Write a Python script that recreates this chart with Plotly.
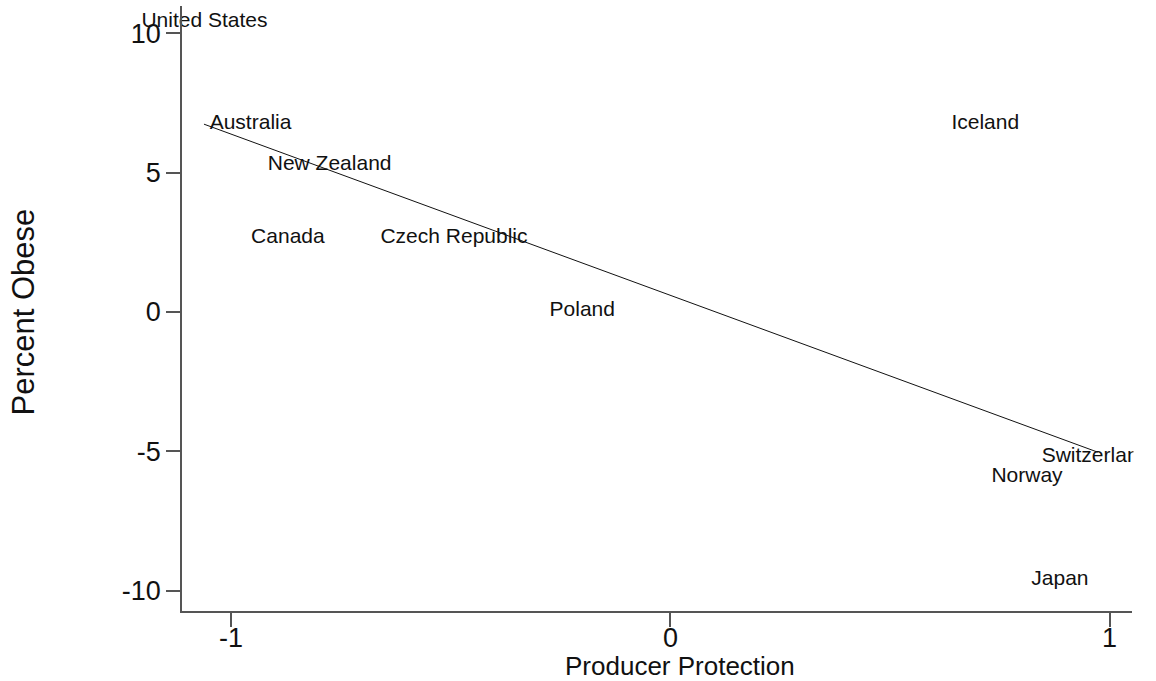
import plotly.graph_objects as go

# Country labels placed at (producer protection, percent obese)
countries = ["United States", "Australia", "New Zealand", "Canada", "Czech Republic",
             "Poland", "Iceland", "Switzerland", "Norway", "Japan"]
producer_protection = [-1.060, -0.955, -0.775, -0.870, -0.492,
                       -0.200, 0.717, 0.969, 0.812, 0.887]
percent_obese = [10.41, 6.74, 5.27, 2.65, 2.65,
                 0.03, 6.74, -5.18, -5.93, -9.62]

# Fitted line endpoints
fit_x = [-1.061, 0.973]
fit_y = [6.74, -5.03]

x_ticks = [-1, 0, 1]
y_ticks = [-10, -5, 0, 5, 10]

FONT = "Liberation Sans, Arial, sans-serif"
AXIS_COLOR = "#555555"
TICK_FONT = dict(family=FONT, size=27, color="#111111")

fig = go.Figure()

fig.add_trace(go.Scatter(
    x=fit_x, y=fit_y, mode="lines",
    line=dict(color="#111111", width=1),
    hoverinfo="skip", showlegend=False,
))

fig.add_trace(go.Scatter(
    x=producer_protection, y=percent_obese, mode="text",
    text=countries, textposition="middle center",
    textfont=dict(family=FONT, size=21, color="#111111"),
    cliponaxis=False, showlegend=False,
))

axis_common = dict(
    showgrid=False, zeroline=False, showline=True,
    linecolor=AXIS_COLOR, linewidth=1.5,
    ticks="outside", ticklen=14, tickwidth=1.5, tickcolor=AXIS_COLOR,
    tickfont=TICK_FONT, mirror=False,
)

# x tick labels are set as annotations so they can sit close to the tick marks
fig.update_xaxes(range=[-1.111, 1.051], tickvals=x_ticks, showticklabels=False,
                 **axis_common)
fig.update_yaxes(range=[-10.73, 10.98], tickvals=y_ticks,
                 ticktext=[str(v) for v in y_ticks], **axis_common)

annotations = [
    dict(text=str(v), x=v, xref="x", y=0, yref="paper", yshift=-11,
         showarrow=False, xanchor="center", yanchor="top", font=TICK_FONT,
         borderpad=0)
    for v in x_ticks
]
annotations += [
    dict(text="Producer Protection", xref="paper", yref="paper",
         x=0.524, y=-0.091, showarrow=False, xanchor="center", yanchor="middle",
         font=dict(family=FONT, size=26, color="#111111"), borderpad=0),
    dict(text="Percent Obese", xref="paper", yref="paper",
         x=-0.167, y=0.494, showarrow=False, xanchor="center", yanchor="middle",
         textangle=-90,
         font=dict(family=FONT, size=31, color="#111111")),
]

fig.update_layout(
    width=1156, height=681,
    margin=dict(l=182, r=24, t=6, b=70),
    plot_bgcolor="white", paper_bgcolor="white",
    # blank strip to the right of the plot area, trimming labels at the edge
    shapes=[dict(type="rect", xref="paper", yref="paper",
                 x0=1.0015, x1=1.03, y0=-0.02, y1=1.01,
                 fillcolor="white", line=dict(width=0), layer="above")],
    annotations=annotations,
)

fig.write_html("out.html")
